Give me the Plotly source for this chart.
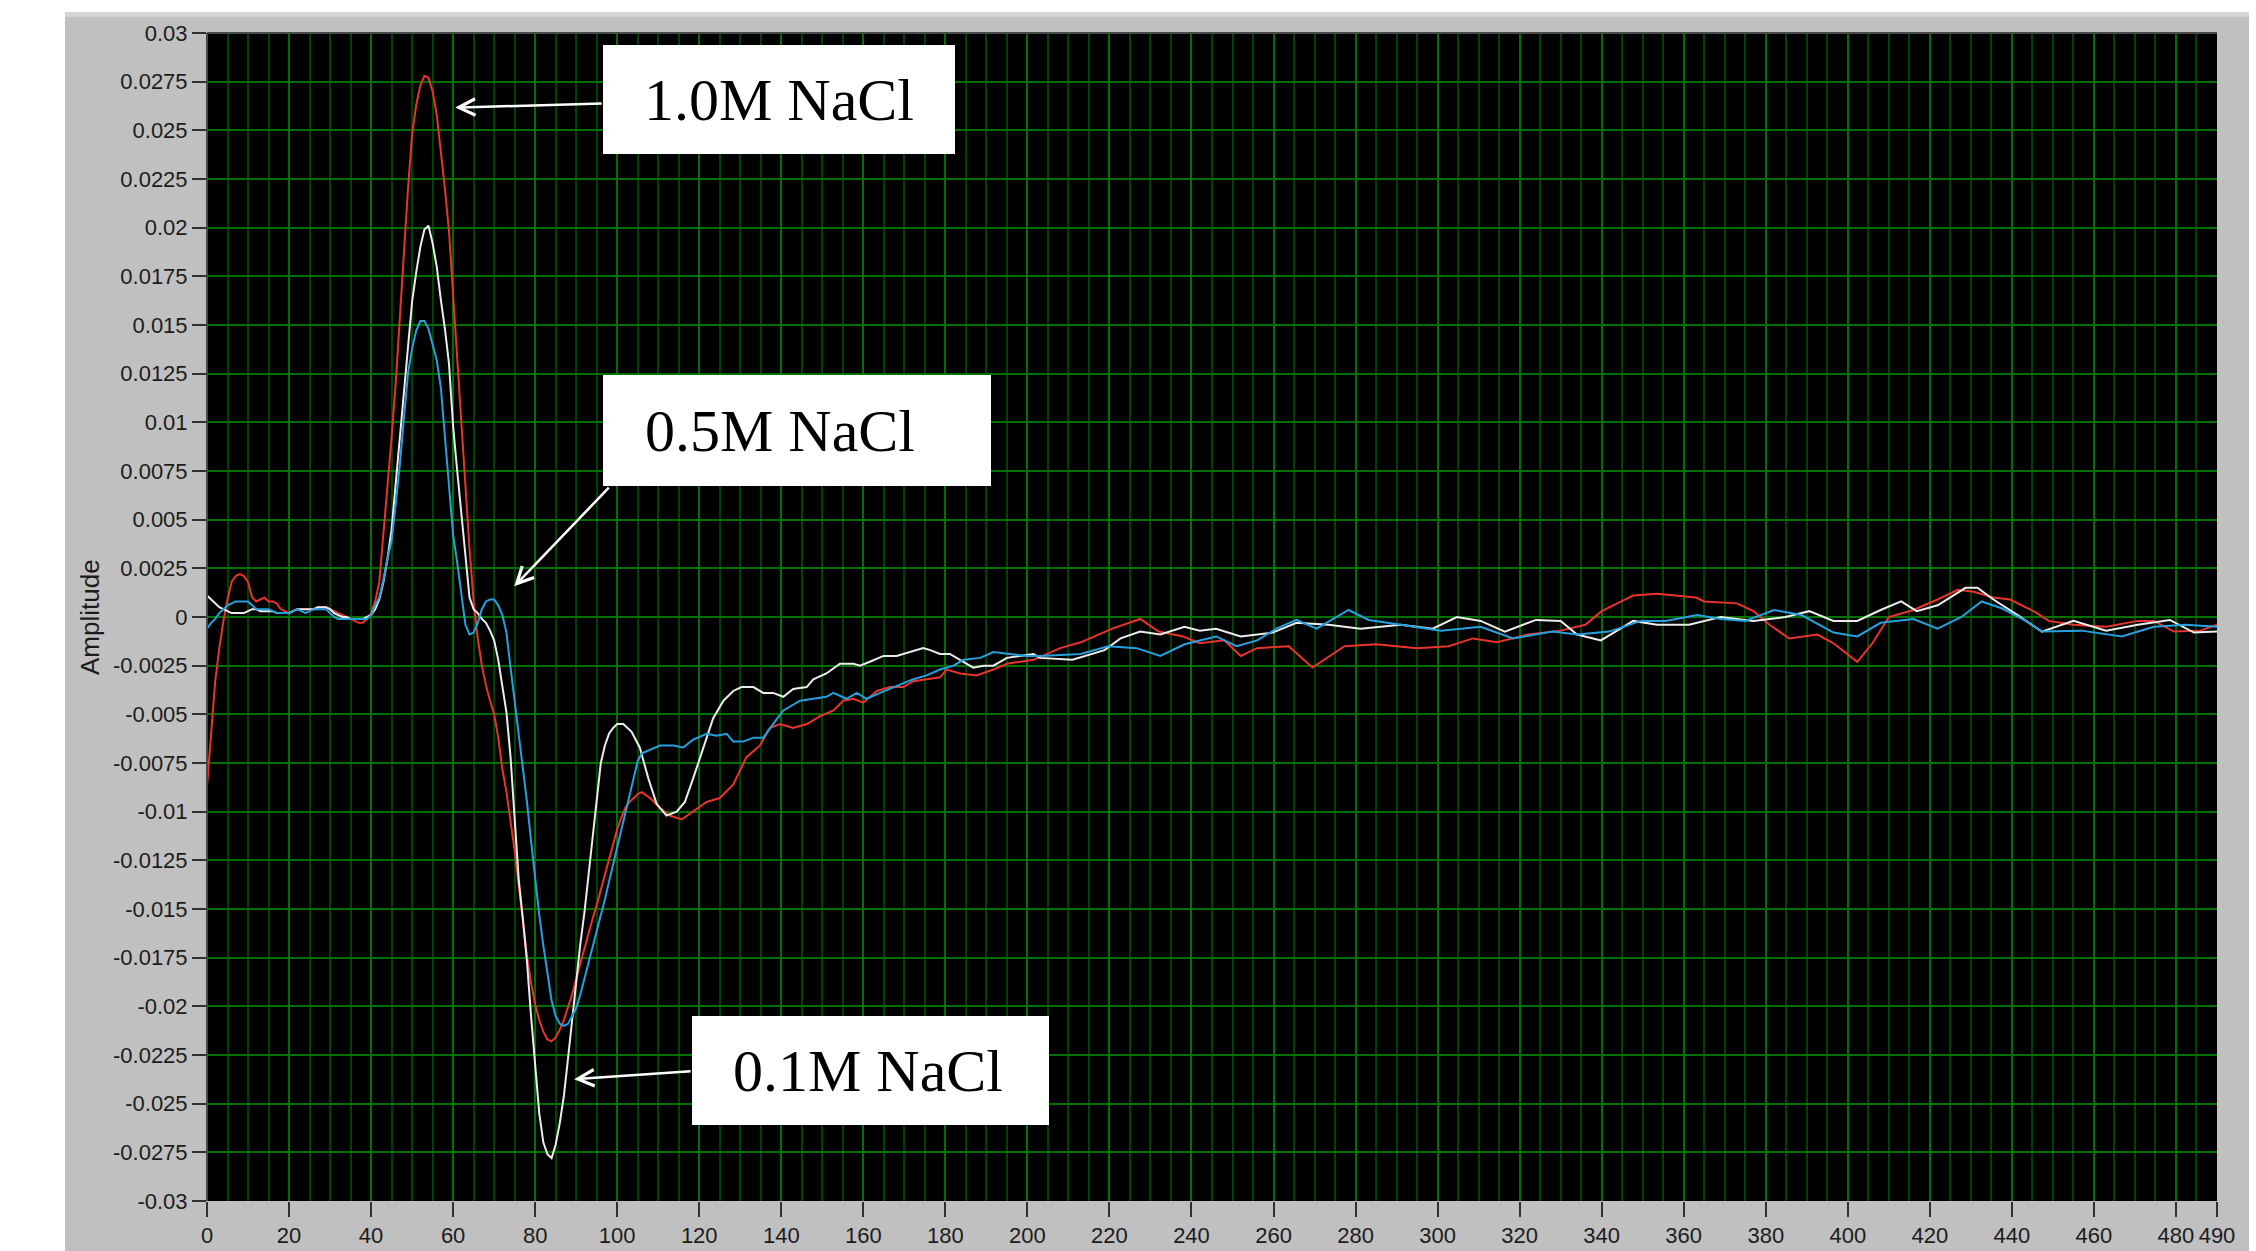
import plotly.graph_objects as go

# ---------------- data ----------------
X_TICKS = [0, 20, 40, 60, 80, 100, 120, 140, 160, 180, 200, 220, 240, 260, 280,
           300, 320, 340, 360, 380, 400, 420, 440, 460, 480, 490]
Y_TICKS = [0.03, 0.0275, 0.025, 0.0225, 0.02, 0.0175, 0.015, 0.0125, 0.01, 0.0075,
           0.005, 0.0025, 0, -0.0025, -0.005, -0.0075, -0.01, -0.0125, -0.015,
           -0.0175, -0.02, -0.0225, -0.025, -0.0275, -0.03]
Y_TICK_TEXT = ["0.03", "0.0275", "0.025", "0.0225", "0.02", "0.0175", "0.015", "0.0125",
               "0.01", "0.0075", "0.005", "0.0025", "0", "-0.0025", "-0.005", "-0.0075",
               "-0.01", "-0.0125", "-0.015", "-0.0175", "-0.02", "-0.0225", "-0.025",
               "-0.0275", "-0.03"]

# 1.0M NaCl (red)
RED_X = list(range(0, 107)) + [
    108, 110.4, 112.8, 115.7, 118.5, 121.8, 125, 128.3, 131.5, 134.8, 137.2, 139.7,
    142.9, 146.2, 149.4, 152.7, 155.1, 157.6, 160, 163.3, 166.5, 169.8, 172.2, 175.4,
    178.7, 180.3, 183.6, 187.6, 191.7, 195, 198.2, 201.5, 208, 213, 220.7, 227.5, 232,
    238, 242, 248, 252, 256, 263.7, 269.5, 277.3, 285, 295, 302.7, 308.6, 314.5, 322,
    330, 336, 340, 343.8, 347.7, 353.5, 359.4, 363, 365, 373, 377, 380.9, 385.7, 392.6,
    396.5, 402.3, 406, 410, 416, 421.9, 426.8, 430.7, 435.5, 439.5, 445.3, 449, 455,
    463, 470.7, 474.6, 479.5, 486, 490]
RED_Y = [
    -0.0087, -0.0060, -0.0033, -0.0016, -0.0002, 0.0009, 0.0018, 0.0021, 0.0022, 0.0021,
    0.0018, 0.0010, 0.0008, 0.0009, 0.0010, 0.0008, 0.0008, 0.0007, 0.0004, 0.0003,
    0.0002, 0.0003, 0.0004, 0.0004, 0.0004, 0.0004, 0.0004, 0.0005, 0.0005, 0.0005,
    0.0004, 0.0003, 0.0002, 0.0001, 0.0000, -0.0001, -0.0002, -0.0003, -0.0003, -0.0001,
    0.0002, 0.0008, 0.0018, 0.0042, 0.0070, 0.0092, 0.0120, 0.0155, 0.0190, 0.0220,
    0.0248, 0.0263, 0.0273, 0.0278, 0.0277, 0.0270, 0.0258, 0.0240, 0.0220, 0.0198,
    0.0165, 0.0130, 0.0100, 0.0068, 0.0035, 0.0008, -0.0011, -0.0025, -0.0035, -0.0043,
    -0.0050, -0.0062, -0.0078, -0.0090, -0.0105, -0.0120, -0.0138, -0.0157, -0.0174, -0.0188,
    -0.0199, -0.0207, -0.0213, -0.0217, -0.0218, -0.0216, -0.0212, -0.0207, -0.0201, -0.0194,
    -0.0186, -0.0178, -0.0170, -0.0162, -0.0155, -0.0148, -0.0140, -0.0132, -0.0125, -0.0117,
    -0.0109, -0.0103, -0.0098, -0.0095, -0.0093, -0.0091, -0.0090,
    -0.0093, -0.0098, -0.0102, -0.0104, -0.0100, -0.0095, -0.0093, -0.0086, -0.0072, -0.0066,
    -0.0057, -0.0055, -0.0057, -0.0055, -0.0051, -0.0048, -0.0043, -0.0042, -0.0044, -0.0038,
    -0.0036, -0.0036, -0.0033, -0.0032, -0.0031, -0.0027, -0.0029, -0.0030, -0.0027, -0.0024,
    -0.0023, -0.0022, -0.0016, -0.0013, -0.0006, -0.0001, -0.00075, -0.0010, -0.00135, -0.0012,
    -0.0020, -0.0016, -0.0015, -0.0026, -0.0015, -0.0014, -0.0016, -0.0015, -0.0011, -0.0013,
    -0.0009, -0.0007, -0.0004, 0.0003, 0.0007, 0.0011, 0.0012, 0.0011, 0.0010, 0.0008,
    0.0007, 0.0003, -0.0004, -0.0011, -0.0009, -0.00135, -0.0023, -0.00135, 0.0000, 0.00036,
    0.0009, 0.0014, 0.0013, 0.0010, 0.0009, 0.0003, -0.0002, -0.0004, -0.0005, -0.0002,
    -0.0002, -0.00075, -0.0007, -0.0004]

# 0.5M NaCl (blue)
BLUE_X = list(range(0, 108)) + [
    110.4, 113.7, 116.1, 118.5, 121.8, 124.2, 126.7, 128.3, 130.7, 133.2, 135.6, 138,
    140.5, 144.6, 147.8, 151, 152.7, 155.9, 158.4, 160.8, 164.1, 167.3, 169.8, 172.2,
    175.4, 178.7, 182, 184.4, 188.5, 191.7, 195.8, 199.9, 203, 213, 219.7, 226.6, 232.4,
    238.3, 246, 251, 256, 260.7, 265.6, 270.5, 278.3, 283.2, 291, 300.8, 310.5, 318.4,
    328, 334, 341.8, 349.6, 355.5, 363.3, 369, 375, 382, 388.7, 396.5, 402.3, 408, 416,
    421.9, 427.7, 432.6, 437.5, 443.4, 447.3, 457, 466.8, 474.6, 482.4, 490]
BLUE_Y = [
    -0.0006, -0.0003, -0.0001, 0.0002, 0.0004, 0.0006, 0.0007, 0.0008, 0.0008, 0.0008,
    0.0008, 0.0006, 0.0004, 0.0004, 0.0004, 0.0004, 0.0003, 0.0002, 0.0002, 0.0002,
    0.0002, 0.0003, 0.0004, 0.0003, 0.0002, 0.0003, 0.0004, 0.0004, 0.0004, 0.0004,
    0.0002, 0.0000, -0.0001, -0.0001, -0.0001, -0.0001, -0.0001, -0.0001, -0.0001, -0.0001,
    0.0001, 0.0006, 0.0010, 0.0019, 0.0030, 0.0039, 0.0058, 0.0078, 0.0102, 0.0125,
    0.0138, 0.0147, 0.0152, 0.0152, 0.0148, 0.0140, 0.0132, 0.0118, 0.0092, 0.0066,
    0.0042, 0.0028, 0.0012, -0.0004, -0.0009, -0.0008, -0.0003, 0.0004, 0.0008, 0.0009,
    0.0009, 0.0006, 0.0001, -0.0008, -0.0026, -0.0043, -0.0060, -0.0078, -0.0095, -0.0115,
    -0.0135, -0.0153, -0.0169, -0.0183, -0.0197, -0.0205, -0.0209, -0.0210, -0.0209, -0.0205,
    -0.0201, -0.0194, -0.0186, -0.0178, -0.0170, -0.0162, -0.0154, -0.0145, -0.0136, -0.0127,
    -0.0119, -0.0110, -0.0101, -0.0091, -0.0082, -0.0074, -0.0070, -0.0069,
    -0.0066, -0.0066, -0.0067, -0.0063, -0.0060, -0.0061, -0.0060, -0.0064, -0.0064, -0.0062,
    -0.0062, -0.0055, -0.0048, -0.0043, -0.0042, -0.0041, -0.0039, -0.0042, -0.0039, -0.0042,
    -0.0039, -0.0036, -0.0034, -0.0032, -0.0030, -0.0027, -0.0025, -0.0022, -0.0021, -0.0018,
    -0.0019, -0.0020, -0.0020, -0.0019, -0.0015, -0.0016, -0.0020, -0.0014, -0.0010, -0.0015,
    -0.0012, -0.0006, -0.00015, -0.0006, 0.00036, -0.00015, -0.0004, -0.0007, -0.0005, -0.0011,
    -0.00075, -0.0009, -0.00075, -0.0002, -0.0002, 0.0001, -0.0001, -0.0002, 0.00036, 0.0001,
    -0.0008, -0.0010, -0.0003, -0.0001, -0.0006, 0.0000, 0.0008, 0.00045, -0.0002, -0.00075,
    -0.0007, -0.0010, -0.0005, -0.0004, -0.0005]

# 0.1M NaCl (white)
WHITE_X = list(range(0, 101)) + [
    101.5, 103.5, 105.5, 107.6, 109.6, 112, 114.5, 116.5, 118.5, 121, 123.4, 125.9,
    128.3, 130.3, 133.2, 135.6, 138, 140.5, 142.9, 146.2, 147.8, 151, 154.3, 157.6,
    159.2, 161.6, 164.9, 168.1, 171.4, 174.6, 176.3, 178.7, 181.1, 183.6, 186.8, 189.3,
    191.7, 195, 198.2, 201.5, 203, 211, 218.8, 222.7, 227.5, 232.4, 238.3, 242, 246,
    252, 259.8, 265.6, 273.4, 281.2, 291, 298.8, 304.7, 310.5, 316.4, 324, 330, 334,
    339.8, 347.7, 353.5, 361.3, 369, 377, 384.8, 390.6, 396.5, 402.3, 408, 413, 416.8,
    421.9, 428.7, 431.6, 435.5, 441.4, 447.3, 455, 463, 470.7, 478.5, 484.4, 490]
WHITE_Y = [
    0.0011, 0.0009, 0.0007, 0.0005, 0.0004, 0.0003, 0.0002, 0.0002, 0.0002, 0.0002,
    0.0003, 0.0004, 0.0004, 0.0003, 0.0003, 0.0003, 0.0003, 0.0002, 0.0002, 0.0002,
    0.0002, 0.0003, 0.0004, 0.0004, 0.0004, 0.0004, 0.0004, 0.0005, 0.0005, 0.0005,
    0.0004, 0.0002, 0.0001, 0.0000, 0.0000, -0.0001, -0.0001, -0.0001, -0.0001, 0.0000,
    0.0001, 0.0004, 0.0009, 0.0018, 0.0030, 0.0045, 0.0068, 0.0090, 0.0115, 0.0140,
    0.0162, 0.0177, 0.0190, 0.0199, 0.0201, 0.0192, 0.0180, 0.0163, 0.0148, 0.0130,
    0.0098, 0.0075, 0.0054, 0.0030, 0.0010, 0.0004, 0.0002, -0.0001, -0.0003, -0.0007,
    -0.0012, -0.0022, -0.0036, -0.0049, -0.0072, -0.0105, -0.0135, -0.0155, -0.0177, -0.0205,
    -0.0230, -0.0255, -0.0270, -0.0276, -0.0278, -0.0271, -0.0260, -0.0246, -0.0227, -0.0207,
    -0.0187, -0.0168, -0.0152, -0.0133, -0.0113, -0.0092, -0.0075, -0.0066, -0.0060, -0.0057,
    -0.0055,
    -0.0055, -0.0059, -0.0067, -0.0083, -0.0096, -0.0102, -0.0100, -0.0095, -0.0083, -0.0067,
    -0.0052, -0.0043, -0.0038, -0.0036, -0.0036, -0.0039, -0.0039, -0.0041, -0.0037, -0.0036,
    -0.0032, -0.0029, -0.0024, -0.0024, -0.0025, -0.0023, -0.0020, -0.0020, -0.0018, -0.0016,
    -0.0017, -0.0019, -0.0019, -0.0022, -0.0026, -0.0025, -0.0025, -0.0021, -0.0020, -0.0019,
    -0.0021, -0.0022, -0.0017, -0.0011, -0.00075, -0.0009, -0.0005, -0.0007, -0.0006, -0.0010,
    -0.0008, -0.0003, -0.0004, -0.0006, -0.0004, -0.0006, 0.0000, -0.0002, -0.00075, -0.00015,
    -0.0002, -0.0009, -0.0012, -0.0002, -0.0004, -0.0004, 0.0000, -0.0002, 0.0000, 0.0003,
    -0.0002, -0.0002, 0.00036, 0.0008, 0.0003, 0.0006, 0.0015, 0.0015, 0.0009, 0.0001,
    -0.00075, -0.0002, -0.0007, -0.0004, -0.00015, -0.0008, -0.00075]

LABELS = ["1.0M NaCl", "0.5M NaCl", "0.1M NaCl"]

# ---------------- layout geometry (pixels) ----------------
W, H = 2256, 1251
PL, PR, PT, PB = 207, 2217, 33, 1201   # plot area edges


def px(xp):
    return (xp - PL) / (PR - PL)


def py(yp):
    return (PB - yp) / (PB - PT)


MAJOR = "rgb(0,112,0)"
MINOR = "rgb(0,66,0)"
TICKFONT = dict(family="Liberation Sans Narrow, Liberation Sans, Arial", size=22, color="#1c1c1c")

fig = go.Figure()
fig.add_trace(go.Scatter(x=RED_X, y=RED_Y, mode="lines", line=dict(color="rgb(232,52,44)", width=2),
                         name=LABELS[0]))
fig.add_trace(go.Scatter(x=WHITE_X, y=WHITE_Y, mode="lines", line=dict(color="rgb(236,236,236)", width=2),
                         name=LABELS[2]))
fig.add_trace(go.Scatter(x=BLUE_X, y=BLUE_Y, mode="lines", line=dict(color="rgb(38,160,222)", width=2),
                         name=LABELS[1]))


def rect(x0, y0, x1, y1, color):
    return dict(type="rect", xref="paper", yref="paper", x0=px(x0), x1=px(x1), y0=py(y1), y1=py(y0),
                fillcolor=color, line=dict(width=0))


fig.update_layout(
    width=W, height=H, autosize=False,
    margin=dict(l=PL, r=W - PR, t=PT, b=H - PB, pad=0),
    paper_bgcolor="#c0c0c0",
    plot_bgcolor="black",
    showlegend=False,
    xaxis=dict(
        range=[0, 490], tickvals=X_TICKS, ticktext=[str(v) for v in X_TICKS],
        tickangle=0, automargin=False,
        showgrid=True, gridcolor=MAJOR, gridwidth=2, zeroline=False,
        ticks="outside", ticklen=15, tickwidth=2, tickcolor="#303030",
        tickfont=TICKFONT, showline=False,
        minor=dict(dtick=5, tick0=0, showgrid=True, gridcolor=MINOR, gridwidth=2, ticks=""),
    ),
    yaxis=dict(
        range=[-0.03, 0.03], tickvals=Y_TICKS, ticktext=Y_TICK_TEXT, automargin=False,
        showgrid=True, gridcolor=MAJOR, gridwidth=2, zeroline=False,
        ticks="outside", ticklen=14, tickwidth=2, tickcolor="#303030",
        tickfont=TICKFONT, showline=False,
    ),
    shapes=[
        rect(0, 0, 65, H, "white"),
        rect(0, 0, W, 12, "white"),
        rect(2249, 0, W, H, "white"),
        rect(65, 12, 2249, 17, "#d4d4d4"),
        dict(type="line", xref="paper", yref="paper", x0=0, x1=1, y0=1, y1=1,
             line=dict(color="#4a4a4a", width=2)),
        dict(type="line", xref="paper", yref="paper", x0=0, x1=0, y0=0, y1=1,
             line=dict(color="#4a4a4a", width=2)),
        # white label boxes
        rect(603, 45, 955, 154, "white"),
        rect(603, 375, 991, 486, "white"),
        rect(692, 1016, 1049, 1125, "white"),
    ],
)

SERIF = dict(family="Liberation Serif, Times New Roman, serif", size=60, color="black")
annotations = [
    # y-axis title
    dict(xref="paper", yref="paper", x=px(90), y=0.5, text="Amplitude", showarrow=False,
         textangle=-90, font=dict(family="Liberation Sans Narrow, Liberation Sans, Arial",
                                  size=26, color="#1c1c1c"),
         xanchor="center", yanchor="middle"),
    # label texts
    dict(xref="paper", yref="paper", x=px(779), y=py(99.5), text=LABELS[0], showarrow=False,
         font=SERIF, xanchor="center", yanchor="middle"),
    dict(xref="paper", yref="paper", x=px(643), y=py(430.5), text=LABELS[1], showarrow=False,
         font=SERIF, xanchor="left", yanchor="middle"),
    dict(xref="paper", yref="paper", x=px(868), y=py(1070.5), text=LABELS[2], showarrow=False,
         font=SERIF, xanchor="center", yanchor="middle"),
    # arrows
    dict(x=60.5, y=0.02617, ax=148, ay=-4, text="", showarrow=True, arrowhead=5,
         arrowsize=1.3, arrowwidth=2.5, arrowcolor="white"),
    dict(x=74.9, y=0.00158, ax=96, ay=-100, text="", showarrow=True, arrowhead=5,
         arrowsize=1.3, arrowwidth=2.5, arrowcolor="white"),
    dict(x=89.5, y=-0.02374, ax=118, ay=-8, text="", showarrow=True, arrowhead=5,
         arrowsize=1.3, arrowwidth=2.5, arrowcolor="white"),
]
fig.update_layout(annotations=annotations)

fig.write_html("out.html", config={"displayModeBar": False, "responsive": False},
               post_script="document.body.style.margin='0px';document.body.style.overflow='hidden';")
